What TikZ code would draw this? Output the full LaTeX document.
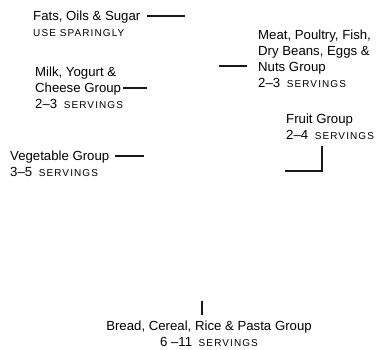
\documentclass[tikz,border=0pt]{standalone}
\usepackage{fontspec}
\setmainfont{Liberation Sans}
\newfontfamily\servfont[LetterSpace=11]{Liberation Sans}
\newcommand{\serv}[1]{{\fontsize{10}{12}\servfont #1}}
\usepackage{tikz}

\begin{document}
\begin{tikzpicture}[x=1pt, y=-1pt, font=\fontsize{13.2}{16}\selectfont,
    lead/.style={line width=2pt, black!90},
    label/.style={align=left, anchor=base west, inner sep=0pt}]
  \useasboundingbox (0,0) rectangle (381,349);
  % food groups (placed by the baseline of their last line)
  \node[label] (fats) at (33,36) {Fats, Oils \& Sugar\\ \serv{USE SPARINGLY}};
  \node[label] (milk) at (35,108.5) {Milk, Yogurt \&\\ Cheese Group\\ 2--3\enspace\serv{SERVINGS}};
  \node[label] (meat) at (258,87.5) {Meat, Poultry, Fish,\\ Dry Beans, Eggs \&\\ Nuts Group\\ 2--3\enspace\serv{SERVINGS}};
  \node[label] (veg) at (10,176.7) {Vegetable Group\\ 3--5\enspace\serv{SERVINGS}};
  \node[label] (fruit) at (286,139.5) {Fruit Group\\ 2--4\enspace\serv{SERVINGS}};
  \node[align=center, anchor=base, inner sep=0pt] (bread) at (209,346.7)
        {Bread, Cereal, Rice \& Pasta Group\\ 6 --11\enspace\serv{SERVINGS}};
  % leader lines
  \coordinate (fats-a) at (147,16);   \coordinate (fats-b) at (185,16);
  \coordinate (milk-a) at (123,88);   \coordinate (milk-b) at (147,88);
  \coordinate (meat-a) at (247,66);   \coordinate (meat-b) at (219,66);
  \coordinate (veg-a) at (115,156);   \coordinate (veg-b) at (144,156);
  \coordinate (fruit-a) at (322,146); \coordinate (fruit-b) at (285,171);
  \coordinate (bread-a) at (202,315); \coordinate (bread-b) at (202,301);
  \draw[lead] (fats-a) -- (fats-b);
  \draw[lead] (milk-a) -- (milk-b);
  \draw[lead] (meat-a) -- (meat-b);
  \draw[lead] (veg-a) -- (veg-b);
  \draw[lead] (fruit-a) |- (fruit-b);
  \draw[lead] (bread-a) -- (bread-b);
\end{tikzpicture}
\end{document}
